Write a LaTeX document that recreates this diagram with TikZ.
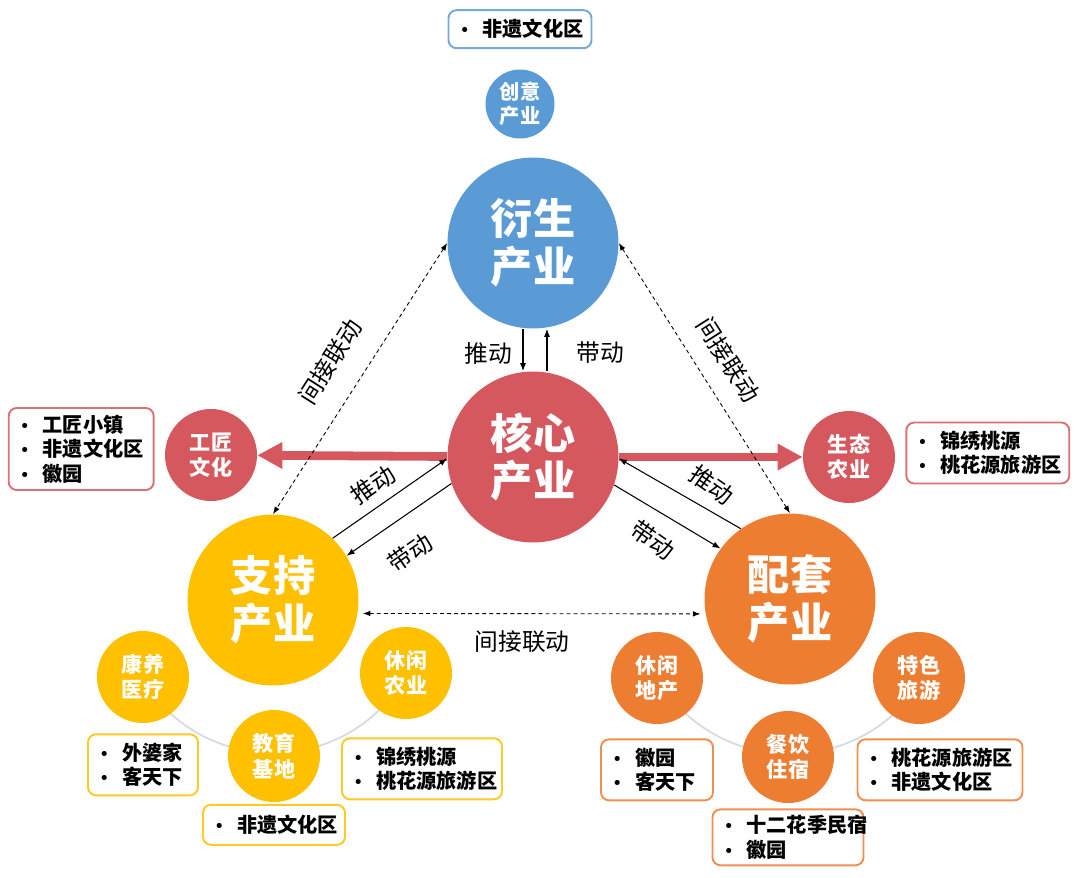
\documentclass[tikz,border=0pt]{standalone}
\usepackage{fontspec}
\setmainfont{Noto Sans CJK SC}
\newfontfamily\dotfont{DejaVu Sans}
\usepackage{xcolor}
\usetikzlibrary{arrows.meta,positioning}
\definecolor{deriveBlue}{HTML}{5B9BD5}
\definecolor{coreRed}{HTML}{D4585D}
\definecolor{supportYel}{HTML}{FFC000}
\definecolor{supplyOrg}{HTML}{ED7D31}
\definecolor{ringGrey}{HTML}{D6DAE1}
\newcommand\bul{\makebox[4.6mm][l]{\dotfont\mdseries\fontsize{10}{12}\selectfont •}}

\begin{document}
\begin{tikzpicture}[x=0.02cm,y=-0.02cm,
  bigc/.style={circle,minimum size=3.42cm,inner sep=0pt,text=white,align=center,font=\bfseries\fontsize{24}{27}\selectfont},
  midc/.style={circle,minimum size=1.84cm,inner sep=0pt,text=white,align=center,font=\bfseries\fontsize{12}{14.5}\selectfont},
  tag/.style={draw,fill=white,rounded corners=1.6mm,line width=1.1pt,inner xsep=2.2mm,inner ysep=0pt,align=left,font=\bfseries\fontsize{11.5}{14}\selectfont},
  lbl/.style={font=\fontsize{13.5}{15}\selectfont},
  arr/.style={-{Latex[length=1.6mm,width=1.2mm]},line width=0.6pt},
  link/.style={{Latex[length=1.5mm,width=1.1mm]}-{Latex[length=1.5mm,width=1.1mm]},line width=0.5pt,dash pattern=on 2.2pt off 1.8pt},
  fat/.style={-{Triangle[length=5mm,width=5mm]},line width=5pt,draw=coreRed},
  ring/.style={draw=ringGrey,line width=1pt}]
\useasboundingbox (0,0) rectangle (1080,877);

% four main industries
\node[bigc,fill=deriveBlue] (deriv) at (533,243) {衍生\\产业};
\node[bigc,fill=coreRed] (core) at (533,457) {核心\\产业};
\node[bigc,fill=supportYel] (support) at (273,600) {支持\\产业};
\node[bigc,fill=supplyOrg] (supply) at (790,599) {配套\\产业};

% grey rings under the satellites
\draw[ring] (support.center) ++(210.6:3.06cm) arc[start angle=210.6,end angle=331,radius=3.06cm];
\draw[ring] (supply.center) ++(210.7:3.1cm) arc[start angle=210.7,end angle=328.5,radius=3.1cm];

% satellites
\node[midc,fill=deriveBlue,minimum size=1.38cm,font=\bfseries\fontsize{11.5}{14}\selectfont] (creative) at (520,104) {创意\\产业};
\node[midc,fill=coreRed] (craft) at (211,455) {工匠\\文化};
\node[midc,fill=coreRed] (eco) at (849,457) {生态\\农业};
\node[midc,fill=supportYel] (health) at (143,677) {康养\\医疗};
\node[midc,fill=supportYel] (edu) at (274,756) {教育\\基地};
\node[midc,fill=supportYel] (leisagri) at (406,673) {休闲\\农业};
\node[midc,fill=supplyOrg] (estate) at (657,678) {休闲\\地产};
\node[midc,fill=supplyOrg] (dining) at (788,757) {餐饮\\住宿};
\node[midc,fill=supplyOrg] (tour) at (919,678) {特色\\旅游};

% project lists
\node[tag,draw=deriveBlue!85,text width=24.2mm,minimum height=7.6mm,above=4mm of creative] (creativeList) {\bul 非遗文化区};
\node[tag,draw=coreRed!85,text width=24.6mm,minimum height=16.4mm,left=2mm of craft,yshift=1.2mm] (craftList) {\bul 工匠小镇\\\bul 非遗文化区\\\bul 徽园};
\node[tag,draw=coreRed!85,text width=28.2mm,minimum height=12.2mm,right=2mm of eco,yshift=0.8mm] (ecoList) {\bul 锦绣桃源\\\bul 桃花源旅游区};
\node[tag,draw=supportYel!85,text width=17.6mm,minimum height=12.2mm,below=2mm of health] (healthList) {\bul 外婆家\\\bul 客天下};
\node[tag,draw=supportYel!85,text width=24mm,minimum height=8mm,below=0.3mm of edu] (eduList) {\bul 非遗文化区};
\node[tag,draw=supportYel!85,text width=27.6mm,minimum height=12.2mm,below=3.6mm of leisagri,xshift=3.2mm] (leisagriList) {\bul 锦绣桃源\\\bul 桃花源旅游区};
\node[tag,draw=supplyOrg!85,text width=18mm,minimum height=12.2mm,below=2.8mm of estate] (estateList) {\bul 徽园\\\bul 客天下};
\node[tag,draw=supplyOrg!85,text width=25.8mm,minimum height=11.2mm,below=1mm of dining] (diningList) {\bul 十二花季民宿\\\bul 徽园};
\node[tag,draw=supplyOrg!85,text width=28.6mm,minimum height=12.2mm,below=2.8mm of tour,xshift=4.2mm] (tourList) {\bul 桃花源旅游区\\\bul 非遗文化区};

% core radiates to both sides
\draw[fat] (core) -- (craft);
\draw[fat] (core) -- (eco);

% push / drive
\draw[arr] ([xshift=-0.2cm]deriv.south) -- ([xshift=-0.2cm]core.north);
\draw[arr] ([xshift=0.28cm]core.north) -- ([xshift=0.28cm]deriv.south);
\draw[arr] (support.46.4) -- (core.181);
\draw[arr] (core.198) -- (support.31.7);
\draw[arr] (supply.125.5) -- (core.359);
\draw[arr] (core.341.6) -- (supply.144.7);
\node[lbl] (pushTop) at (488,353) {推动};
\node[lbl] (driveTop) at (600,353) {带动};
\node[lbl,rotate=35] (pushLeft) at (373,485) {推动};
\node[lbl,rotate=35] (driveLeft) at (410,553) {带动};
\node[lbl,rotate=-35] (pushRight) at (712,485) {推动};
\node[lbl,rotate=-35] (driveRight) at (653,540) {带动};

% indirect links
\draw[link] (deriv.west) -- (support.north);
\draw[link] (deriv.east) -- (supply.north);
\draw[link,shorten <=1mm,shorten >=1mm] (support.-9.5) -- (supply.190.2);
\node[lbl,rotate=57.6] (indLeft) at (330,362) {间接联动};
\node[lbl,rotate=-57.6] (indRight) at (728,360) {间接联动};
\node[lbl] (indBottom) at (522,642) {间接联动};
\end{tikzpicture}
\end{document}
